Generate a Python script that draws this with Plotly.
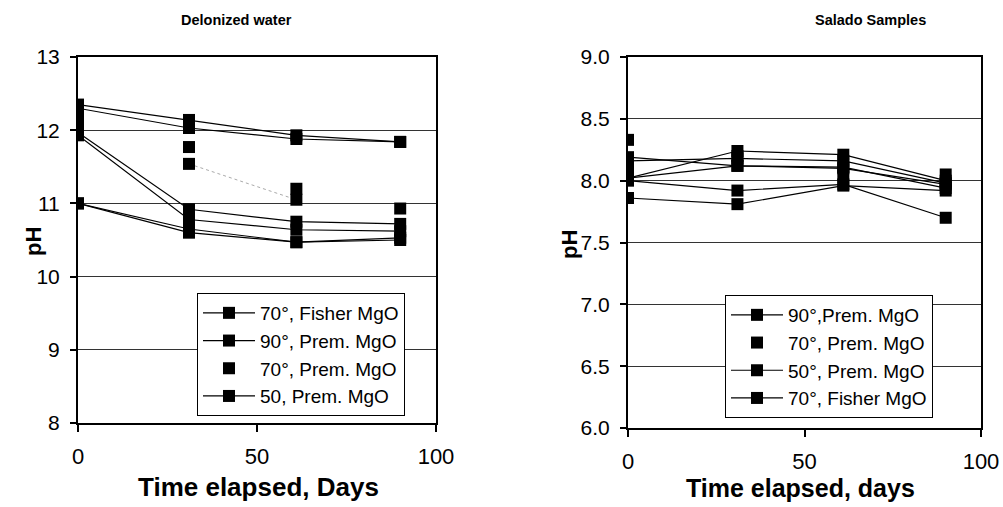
import plotly.graph_objects as go

# ---------------- data ----------------
days = [0, 31, 61, 90]

# Deionized water panel
dw_fisher70_rep1 = [12.35, 12.14, 11.93, 11.84]
dw_fisher70_rep2 = [12.30, 12.03, 11.88, 11.84]
dw_prem90_rep1 = [11.97, 10.92, 10.75, 10.72]
dw_prem90_rep2 = [11.93, 10.78, 10.64, 10.62]
dw_prem50_rep1 = [11.00, 10.65, 10.47, 10.53]
dw_prem50_rep2 = [11.00, 10.60, 10.47, 10.50]
dw_prem70_days = [0, 0, 31, 31, 61, 61, 90]
dw_prem70_ph = [12.20, 12.10, 11.77, 11.54, 11.20, 11.05, 10.93]

# Salado panel
sa_prem90_rep1 = [8.02, 8.24, 8.21, 8.00]
sa_prem90_rep2 = [8.02, 8.12, 8.10, 7.97]
sa_prem50_rep1 = [8.00, 7.92, 7.97, 7.70]
sa_prem50_rep2 = [7.86, 7.81, 7.96, 7.92]
sa_fisher70_rep1 = [8.19, 8.12, 8.11, 7.94]
sa_fisher70_rep2 = [8.16, 8.18, 8.16, 7.98]
sa_prem70_days = [0, 0, 31, 61, 90]
sa_prem70_ph = [8.33, 8.10, 8.20, 8.05, 8.05]

dw_names = ["70°, Fisher MgO", "90°, Prem. MgO", "70°, Prem. MgO", "50, Prem. MgO"]
sa_names = ["90°,Prem. MgO", "70°, Prem. MgO", "50°, Prem. MgO", "70°, Fisher MgO"]

x_ticks = [0, 50, 100]
dw_y_ticks = [8, 9, 10, 11, 12, 13]
sa_y_ticks = [6.0, 6.5, 7.0, 7.5, 8.0, 8.5, 9.0]

# ---------------- helpers ----------------
FONT = "Liberation Sans, Arial, sans-serif"
MK = dict(symbol="square", size=12, color="black")

W, H = 1003, 507


def fx(px):
    return px / W


def fy(py):
    return 1 - py / H


def joined(*reps):
    xs, ys = [], []
    for r in reps:
        if xs:
            xs.append(None)
            ys.append(None)
        xs.extend(days)
        ys.extend(r)
    return xs, ys


fig = go.Figure()


def add_line(reps, name, xa, ya, legend):
    xs, ys = joined(*reps)
    fig.add_trace(go.Scatter(x=xs, y=ys, mode="lines+markers", name=name,
                             line=dict(color="black", width=1.2), marker=MK,
                             xaxis=xa, yaxis=ya, legend=legend, connectgaps=False))


def add_pts(xs, ys, name, xa, ya, legend):
    fig.add_trace(go.Scatter(x=xs, y=ys, mode="markers", name=name, marker=MK,
                             xaxis=xa, yaxis=ya, legend=legend))


# left panel
add_line([dw_fisher70_rep1, dw_fisher70_rep2], dw_names[0], "x", "y", "legend")
add_line([dw_prem90_rep1, dw_prem90_rep2], dw_names[1], "x", "y", "legend")
fig.add_trace(go.Scatter(x=[dw_prem70_days[3], dw_prem70_days[5]],
                         y=[dw_prem70_ph[3], dw_prem70_ph[5]], mode="lines",
                         line=dict(color="#aaaaaa", width=1, dash="dot"),
                         showlegend=False, hoverinfo="skip", xaxis="x", yaxis="y"))
add_pts(dw_prem70_days, dw_prem70_ph, dw_names[2], "x", "y", "legend")
add_line([dw_prem50_rep1, dw_prem50_rep2], dw_names[3], "x", "y", "legend")

# right panel
add_line([sa_prem90_rep1, sa_prem90_rep2], sa_names[0], "x2", "y2", "legend2")
add_pts(sa_prem70_days, sa_prem70_ph, sa_names[1], "x2", "y2", "legend2")
add_line([sa_prem50_rep1, sa_prem50_rep2], sa_names[2], "x2", "y2", "legend2")
add_line([sa_fisher70_rep1, sa_fisher70_rep2], sa_names[3], "x2", "y2", "legend2")

xcommon = dict(range=[0, 100], tickvals=x_ticks, ticks="outside", ticklen=7,
               tickwidth=1.5, tickcolor="black", showline=True, linecolor="black",
               linewidth=2, mirror=True, showgrid=False, zeroline=False,
               automargin=False, ticklabeloverflow="allow",
               tickfont=dict(size=22, color="black", family=FONT),
               ticklabelstandoff=6)
ycommon = dict(ticks="outside", ticklen=6, tickwidth=1.5, tickcolor="black",
               showline=True, linecolor="black", linewidth=2, mirror=True,
               showgrid=True, gridcolor="#333333", gridwidth=1, zeroline=False,
               automargin=False, ticklabeloverflow="allow",
               tickfont=dict(size=21, color="black", family=FONT),
               ticklabelstandoff=6)

legcommon = dict(bgcolor="white", bordercolor="black", borderwidth=1,
                 font=dict(size=19, color="black", family=FONT), itemwidth=52,
                 xanchor="left", yanchor="top", tracegroupgap=0)


def label(text, x, y, size, angle=0):
    return dict(text=text, x=fx(x), y=fy(y), xref="paper", yref="paper",
                xanchor="center", yanchor="middle", showarrow=False, textangle=angle,
                font=dict(size=size, family=FONT, color="black"))


fig.update_layout(
    width=W, height=H, paper_bgcolor="white", plot_bgcolor="white",
    margin=dict(l=0, r=0, t=0, b=0, autoexpand=False), showlegend=True,
    font=dict(family=FONT, color="black"),
    xaxis=dict(xcommon, domain=[fx(78), fx(436)], anchor="y"),
    yaxis=dict(ycommon, domain=[fy(423), fy(57)], anchor="x",
               range=[8, 13], tickvals=dw_y_ticks),
    xaxis2=dict(xcommon, domain=[fx(628), fx(981)], anchor="y2"),
    yaxis2=dict(ycommon, domain=[fy(428), fy(57)], anchor="x2",
                range=[6, 9], tickvals=sa_y_ticks, tickformat=".1f"),
    legend=dict(legcommon, x=fx(197), y=fy(293)),
    legend2=dict(legcommon, x=fx(725), y=fy(295)),
    annotations=[
        label("<b>Delonized water</b>", 236, 20, 14.5),
        label("<b>Salado Samples</b>", 870, 20, 14.5),
        label("<b>Time elapsed, Days</b>", 258, 487, 26),
        label("<b>Time elapsed, days</b>", 800, 488, 25),
        label("<b>pH</b>", 33, 242, 22, -90),
        label("<b>pH</b>", 569, 245, 22, -90),
    ],
)

fig.write_html("out.html", config={"displayModeBar": False},
               post_script="document.body.style.margin='0';"
                           "document.body.style.overflow='hidden';")
